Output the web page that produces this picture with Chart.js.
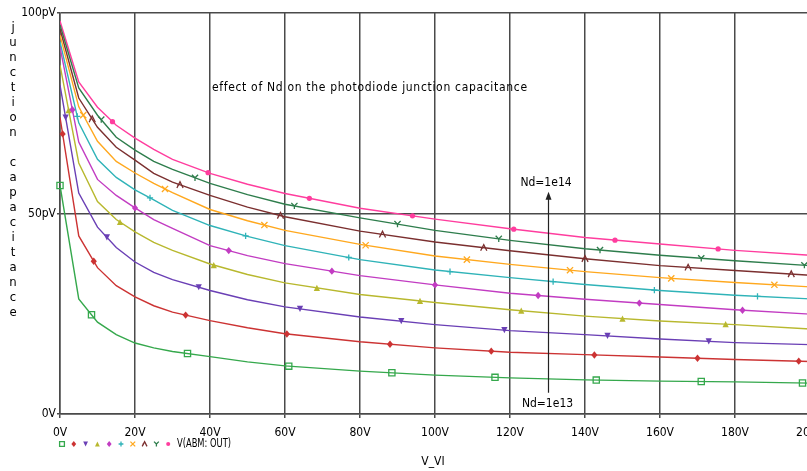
<!DOCTYPE html>
<html><head><meta charset="utf-8">
<script src="https://cdn.jsdelivr.net/npm/chart.js@4"></script>
<style>html,body{margin:0;padding:0;background:#fff;overflow:hidden;width:807px;height:471px}canvas{display:block}</style>
</head><body>
<canvas id="c" width="830" height="471"></canvas>
<script>
// ---- data ----
const voltages = [0,5,10,15,20,25,30,40,50,60,80,100,120,140,160,180,200];
const xTicks = [0,20,40,60,80,100,120,140,160,180,200];
const yTickLabels = {0:'0V', 50:'50pV', 100:'100pV'};

const ndE13   = [57, 28.7, 22.9, 19.8, 17.7, 16.5, 15.6, 14.3, 13.0, 12.0, 10.7, 9.7, 9.0, 8.5, 8.2, 8.0, 7.7];
const ndS2    = [74, 44.4, 36.5, 32.0, 29.2, 27.0, 25.4, 23.3, 21.5, 20.0, 18.0, 16.5, 15.4, 14.8, 14.2, 13.6, 13.1];
const ndS3    = [82, 55.1, 46.6, 41.5, 37.9, 35.3, 33.5, 30.8, 28.5, 26.7, 24.2, 22.3, 20.8, 19.8, 18.7, 17.8, 17.3];
const ndS4    = [87, 62.6, 53.0, 48.5, 45.4, 42.8, 40.8, 37.4, 34.8, 32.7, 29.8, 27.8, 26.0, 24.4, 23.2, 22.3, 21.2];
const ndS5    = [91.5, 67.8, 58.5, 54.5, 51.4, 48.5, 46.3, 42.0, 39.5, 37.5, 34.5, 32.2, 30.1, 28.6, 27.3, 26.0, 24.9];
const ndS6    = [92.8, 72.6, 63.5, 59.0, 55.9, 53.4, 50.8, 47.0, 44.3, 42.0, 38.5, 35.9, 34.0, 32.3, 30.8, 29.6, 28.7];
const ndS7    = [94.5, 76.6, 68.0, 63.0, 60.1, 57.5, 55.2, 51.0, 48.2, 45.8, 42.3, 39.4, 37.3, 35.5, 34.0, 32.8, 31.7];
const ndS8    = [96, 78.8, 71.5, 66.5, 63.3, 60.0, 57.8, 54.5, 51.6, 49.2, 45.6, 42.9, 40.7, 38.7, 37.0, 35.8, 34.6];
const ndS9    = [97, 81.3, 74.5, 69.0, 65.8, 63.0, 61.0, 57.5, 54.7, 52.3, 48.9, 45.8, 43.3, 41.2, 39.6, 38.2, 37.0];
const ndE14   = [98, 82.8, 76.5, 72.0, 68.8, 66.0, 63.5, 60.0, 57.3, 55.0, 51.3, 48.6, 46.2, 44.0, 42.4, 40.8, 39.6];

// marker positions along each trace (volts)
const mk1  = [0, 8.4, 34, 61, 88.5, 116, 143, 171, 198];
const mk2  = [0.7, 9, 33.5, 60.5, 88, 115, 142.5, 170, 197];
const mk3  = [1.5, 12.5, 37, 64, 91, 118.5, 146, 173];
const mk4  = [2.3, 16, 41, 68.5, 96, 123, 150, 177.5];
const mk5  = [3.3, 20, 45, 72.5, 100, 127.5, 154.5, 182];
const mk6  = [4.6, 24, 49.5, 77, 104, 131.5, 158.5, 186];
const mk7  = [6.2, 28, 54.5, 81.5, 108.5, 136, 163, 190.5];
const mk8  = [8.6, 32, 58.8, 86, 113, 140, 167.5, 195];
const mk9  = [11, 36, 62.5, 90, 117, 144, 171, 198.5];
const mk10 = [14, 39.5, 66.5, 94, 121, 148, 175.5];

const seriesValues = [ndE13, ndS2, ndS3, ndS4, ndS5, ndS6, ndS7, ndS8, ndS9, ndE14];
const seriesMarkers = [mk1, mk2, mk3, mk4, mk5, mk6, mk7, mk8, mk9, mk10];
const seriesColors = ['#35a84c','#cc3333','#6a3fb5','#b8b82e','#c23cc2','#2fb3b8','#ffa81e','#7b2f2f','#2e7d4c','#ff3d9e'];
const seriesShapes = ['square','diamond','triDown','triUp','diamond','plus','cross','lambda','wye','dot'];

const titleText = 'effect of Nd on the photodiode junction capacitance';
const yTitle = 'junction capacitance';
const xTitle = 'V_VI';
const legendText = 'V(ABM: OUT)';
const noteTop = 'Nd=1e14', noteBottom = 'Nd=1e13';
const noteTopPos = [129.6, 57.6], noteBottomPos = [130, 2.5], arrowV = 130, arrowFrom = 5.3, arrowTo = 55.4;
const titlePos = [40.5, 81.3];

const FONT = '"DejaVu Sans Condensed","Liberation Sans Narrow","DejaVu Sans",sans-serif';

function drawMarker(ctx, shape, x, y, s, color){
  ctx.save();
  ctx.strokeStyle = color; ctx.fillStyle = color; ctx.lineWidth = 1.3;
  ctx.beginPath();
  switch(shape){
    case 'square': ctx.rect(x-s, y-s, 2*s, 2*s); ctx.stroke(); break;
    case 'diamond': ctx.moveTo(x, y-s-0.6); ctx.lineTo(x+s, y); ctx.lineTo(x, y+s+0.6); ctx.lineTo(x-s, y); ctx.closePath(); ctx.fill(); break;
    case 'triDown': ctx.moveTo(x-s, y-s); ctx.lineTo(x+s, y-s); ctx.lineTo(x, y+s); ctx.closePath(); ctx.fill(); break;
    case 'triUp': ctx.moveTo(x-s, y+s); ctx.lineTo(x+s, y+s); ctx.lineTo(x, y-s); ctx.closePath(); ctx.fill(); break;
    case 'plus': ctx.moveTo(x-s, y); ctx.lineTo(x+s, y); ctx.moveTo(x, y-s); ctx.lineTo(x, y+s); ctx.stroke(); break;
    case 'cross': ctx.moveTo(x-s, y-s); ctx.lineTo(x+s, y+s); ctx.moveTo(x+s, y-s); ctx.lineTo(x-s, y+s); ctx.stroke(); break;
    case 'lambda': ctx.moveTo(x-s, y+s); ctx.lineTo(x, y-s); ctx.lineTo(x+s, y+s); ctx.moveTo(x-s*0.3, y+s*0.1); ctx.lineTo(x-s*0.9, y+s*0.1); ctx.stroke(); break;
    case 'wye': ctx.moveTo(x-s, y-s); ctx.lineTo(x, y); ctx.lineTo(x+s, y-s); ctx.moveTo(x, y); ctx.lineTo(x, y+s); ctx.stroke(); break;
    case 'dot': ctx.arc(x, y, s*0.85, 0, Math.PI*2); ctx.fill(); break;
  }
  ctx.restore();
}

function valueAt(vs, ys, v){
  for (let i = 0; i < vs.length-1; i++){
    if (v >= vs[i] && v <= vs[i+1]) return ys[i] + (ys[i+1]-ys[i])*(v-vs[i])/(vs[i+1]-vs[i]);
  }
  return ys[ys.length-1];
}

function fitText(ctx, text, x, y, width){
  const w = ctx.measureText(text).width;
  ctx.save();
  ctx.translate(x, y);
  ctx.scale(width / w, 1);
  ctx.fillText(text, 0, 0);
  ctx.restore();
}

const extras = {
  id: 'extras',
  afterDatasetsDraw(chart){
    const ctx = chart.ctx, xs = chart.scales.x, ys = chart.scales.y;
    const a = chart.chartArea;
    // markers on the traces
    ctx.save();
    ctx.beginPath(); ctx.rect(a.left-5, a.top-5, a.right-a.left+10, a.bottom-a.top+10); ctx.clip();
    seriesValues.forEach((vals, i) => {
      seriesMarkers[i].forEach(v => {
        drawMarker(ctx, seriesShapes[i], xs.getPixelForValue(v), ys.getPixelForValue(valueAt(voltages, vals, v)), 3.1, seriesColors[i]);
      });
    });
    ctx.restore();
    // annotations
    ctx.save();
    ctx.fillStyle = '#000';
    ctx.font = '12px ' + FONT;
    ctx.textBaseline = 'middle';
    ctx.textAlign = 'left';
    const n = titleText.length;
    ctx.letterSpacing = '0px';
    const w = ctx.measureText(titleText).width;
    const sp = (315 - w) / (n - 1);
    ctx.letterSpacing = sp.toFixed(2) + 'px';
    ctx.fillText(titleText, xs.getPixelForValue(titlePos[0]), ys.getPixelForValue(titlePos[1]));
    ctx.letterSpacing = '0px';
    ctx.textAlign = 'center';
    ctx.fillText(noteTop, xs.getPixelForValue(noteTopPos[0]), ys.getPixelForValue(noteTopPos[1]));
    ctx.fillText(noteBottom, xs.getPixelForValue(noteBottomPos[0]), ys.getPixelForValue(noteBottomPos[1]));
    // arrow
    const ax = Math.round(xs.getPixelForValue(arrowV)) + 0.5;
    const y1 = ys.getPixelForValue(arrowFrom), y2 = ys.getPixelForValue(arrowTo);
    ctx.strokeStyle = '#222'; ctx.lineWidth = 1.2;
    ctx.beginPath(); ctx.moveTo(ax, y1); ctx.lineTo(ax, y2+4); ctx.stroke();
    ctx.fillStyle = '#222';
    ctx.beginPath(); ctx.moveTo(ax, y2); ctx.lineTo(ax-3, y2+8); ctx.lineTo(ax+3, y2+8); ctx.closePath(); ctx.fill();
    // y title, letters stacked
    ctx.font = '13px ' + FONT;
    ctx.fillStyle = '#000';
    ctx.textAlign = 'center';
    [...yTitle].forEach((ch, k) => ctx.fillText(ch, 13, 28 + k*15));
    // x title
    ctx.font = '12px ' + FONT;
    ctx.fillText(xTitle, (a.left + a.right)/2 - 2, 462);
    // legend row
    seriesShapes.forEach((s, i) => drawMarker(ctx, s, a.left + 2 + i*11.8, 444, 2.4, seriesColors[i]));
    ctx.textAlign = 'left';
    ctx.fillStyle = '#000';
    fitText(ctx, legendText, a.left + 117, 444, 54);
    ctx.restore();
  }
};

const datasets = seriesValues.map((vals, i) => ({
  data: voltages.map((v, k) => ({x: v, y: vals[k]})),
  borderColor: seriesColors[i],
  borderWidth: 1.4,
  pointRadius: 0,
  tension: 0,
  fill: false
}));

new Chart(document.getElementById('c'), {
  type: 'line',
  data: { datasets },
  options: {
    responsive: false,
    animation: false,
    devicePixelRatio: 1,
    layout: { padding: { top: 13, left: 0, right: 20, bottom: 0 } },
    plugins: { legend: { display: false }, tooltip: { enabled: false } },
    scales: {
      x: {
        type: 'linear', min: 0, max: 200,
        afterBuildTicks: s => { s.ticks = xTicks.map(v => ({value: v})); },
        afterFit: s => { s.height = 57; s.paddingLeft = 0; s.paddingRight = 0; },
        grid: { color: '#4a4a4a', lineWidth: 1.5, tickLength: 4, tickColor: '#4a4a4a' },
        border: { color: '#4a4a4a', width: 1.5 },
        ticks: { color: '#000', padding: 8, maxRotation: 0, font: { family: FONT, size: 12 }, callback: v => v + 'V' }
      },
      y: {
        type: 'linear', min: 0, max: 100,
        afterBuildTicks: s => { s.ticks = Object.keys(yTickLabels).map(v => ({value: +v})); },
        afterFit: s => { s.width = 60; s.paddingTop = 0; s.paddingBottom = 0; },
        grid: { color: '#4a4a4a', lineWidth: 1.5, tickLength: 3, tickColor: '#4a4a4a' },
        border: { color: '#4a4a4a', width: 1.5 },
        ticks: { color: '#000', padding: 1, font: { family: FONT, size: 12 }, callback: v => yTickLabels[v] }
      }
    }
  },
  plugins: [extras]
});
</script>
</body></html>
